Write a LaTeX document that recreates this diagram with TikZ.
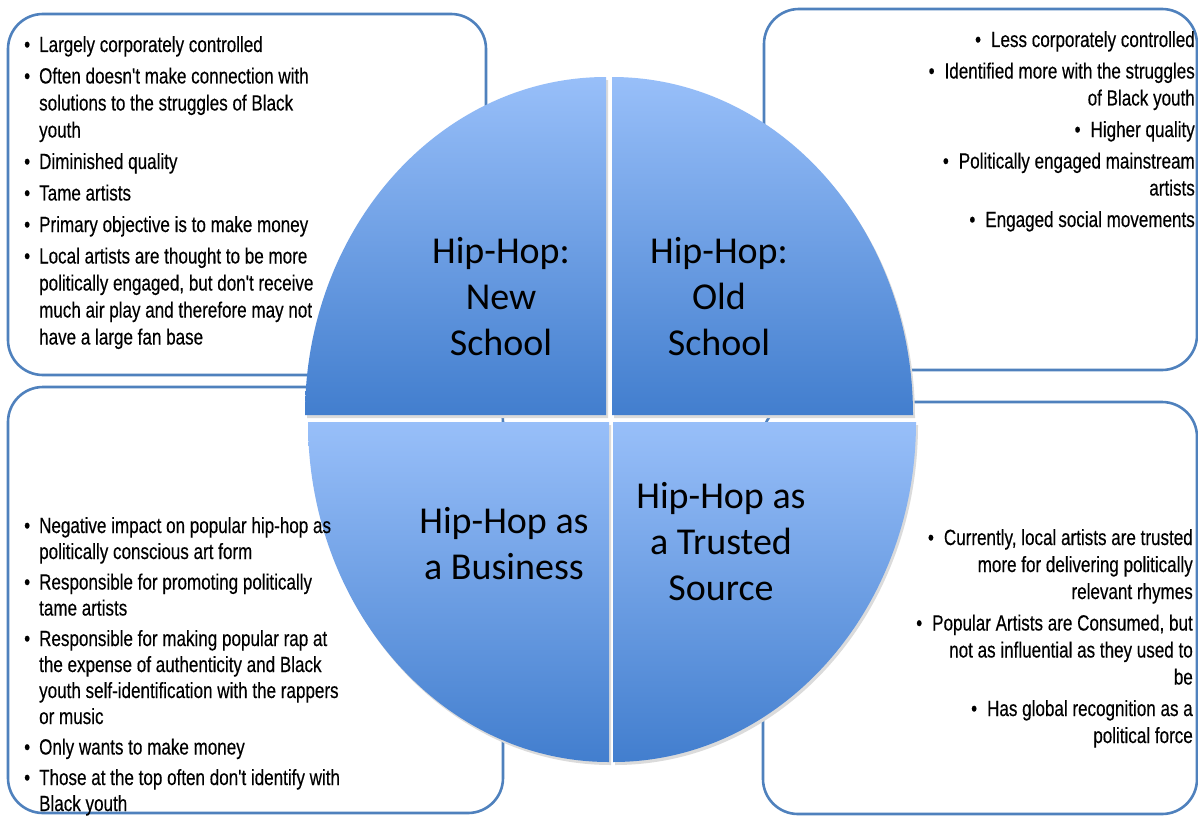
\documentclass[tikz,border=0pt]{standalone}
\usepackage{fontspec}
\setmainfont{Liberation Sans}
\newfontfamily\bodyfont{Liberation Sans}[FakeStretch=0.775,FakeBold=0.3]
\newfontfamily\labelfont{Carlito}
\definecolor{boxblue}{HTML}{4F81BD}
\definecolor{qlight}{HTML}{98BFF9}
\definecolor{qdark}{HTML}{427ECE}
\begin{document}
\begin{tikzpicture}[x=1pt,y=-1pt,
  infobox/.style={draw=boxblue, line width=2.6pt, rounded corners=35pt, fill=white},
  quad/.style={top color=qlight, bottom color=qdark, draw=none},
  qshadow/.style={fill=black!14},
  bodytext/.style={font=\bodyfont\fontsize{22}{27}\selectfont, inner sep=0pt},
  tightbody/.style={font=\bodyfont\fontsize{22}{26}\selectfont, inner sep=0pt},
  labeltext/.style={font=\labelfont\fontsize{38}{46}\selectfont, inner sep=0pt, anchor=base}]
\useasboundingbox (0,0) rectangle (1198,816);
\fill[white] (0,0) rectangle (1198,816);
% info boxes
\draw[infobox] (8,14) rectangle (486,375);
\draw[infobox] (764,9) rectangle (1197,370);
\draw[infobox] (8,387) rectangle (503,813);
\draw[infobox] (763,402) rectangle (1197,814);
% quadrant shadows
\begin{scope}[shift={(2,3)}]
\path[qshadow] (606,415) -- (305,415) arc[start angle=180,end angle=270,x radius=301,y radius=338] -- cycle;
\path[qshadow] (612,415) -- (612,77) arc[start angle=270,end angle=360,x radius=301,y radius=338] -- cycle;
\path[qshadow] (609,422) -- (609,762) arc[start angle=90,end angle=180,x radius=301,y radius=340] -- cycle;
\path[qshadow] (613,422) -- (916,422) arc[start angle=0,end angle=90,x radius=303,y radius=340] -- cycle;
\end{scope}
% quadrants
\path[quad] (606,415) -- (305,415) arc[start angle=180,end angle=270,x radius=301,y radius=338] -- cycle;
\path[quad] (612,415) -- (612,77) arc[start angle=270,end angle=360,x radius=301,y radius=338] -- cycle;
\path[quad] (609,422) -- (609,762) arc[start angle=90,end angle=180,x radius=301,y radius=340] -- cycle;
\path[quad] (613,422) -- (916,422) arc[start angle=0,end angle=90,x radius=303,y radius=340] -- cycle;
% quadrant labels
\node[labeltext] (newschool) at (501,263) {\begin{tabular}[t]{@{}c@{}}Hip-Hop:\\New\\School\end{tabular}};
\node[labeltext] (oldschool) at (719,263) {\begin{tabular}[t]{@{}c@{}}Hip-Hop:\\Old\\School\end{tabular}};
\node[labeltext] (business) at (504,533) {\begin{tabular}[t]{@{}c@{}}Hip-Hop as\\a Business\end{tabular}};
\node[labeltext] (trusted) at (721,508) {\begin{tabular}[t]{@{}c@{}}Hip-Hop as\\a Trusted\\Source\end{tabular}};
% texts
\node[bodytext, anchor=base west] (tltext) at (24,52) {\begin{tabular}[t]{@{}l@{\hspace{9pt}}l@{}}
\textbullet & Largely corporately controlled\\[4.5pt]
\textbullet & Often doesn't make connection with\\
 & solutions to the struggles of Black\\
 & youth\\[4.5pt]
\textbullet & Diminished quality\\[4.5pt]
\textbullet & Tame artists\\[4.5pt]
\textbullet & Primary objective is to make money\\[4.5pt]
\textbullet & Local artists are thought to be more\\
 & politically engaged, but don't receive\\
 & much air play and therefore may not\\
 & have a large fan base
\end{tabular}};
\node[bodytext, anchor=base east] (trtext) at (1195,47) {\begin{tabular}[t]{@{}r@{}}
\textbullet\hspace{10pt}Less corporately controlled\\[4.5pt]
\textbullet\hspace{10pt}Identified more with the struggles\\
of Black youth\\[4.5pt]
\textbullet\hspace{10pt}Higher quality\\[4.5pt]
\textbullet\hspace{10pt}Politically engaged mainstream\\
artists\\[4.5pt]
\textbullet\hspace{10pt}Engaged social movements
\end{tabular}};
\node[tightbody, anchor=base west] (bltext) at (24,533) {\begin{tabular}[t]{@{}l@{\hspace{9pt}}l@{}}
\textbullet & Negative impact on popular hip-hop as\\
 & politically conscious art form\\[4.5pt]
\textbullet & Responsible for promoting politically\\
 & tame artists\\[4.5pt]
\textbullet & Responsible for making popular rap at\\
 & the expense of authenticity and Black\\
 & youth self-identification with the rappers\\
 & or music\\[4.5pt]
\textbullet & Only wants to make money\\[4.5pt]
\textbullet & Those at the top often don't identify with\\
 & Black youth
\end{tabular}};
\node[bodytext, anchor=base east] (brtext) at (1193,545) {\begin{tabular}[t]{@{}r@{}}
\textbullet\hspace{10pt}Currently, local artists are trusted\\
more for delivering politically\\
relevant rhymes\\[4.5pt]
\textbullet\hspace{10pt}Popular Artists are Consumed, but\\
not as influential as they used to\\
be\\[4.5pt]
\textbullet\hspace{10pt}Has global recognition as a\\
political force
\end{tabular}};
\end{tikzpicture}
\end{document}
